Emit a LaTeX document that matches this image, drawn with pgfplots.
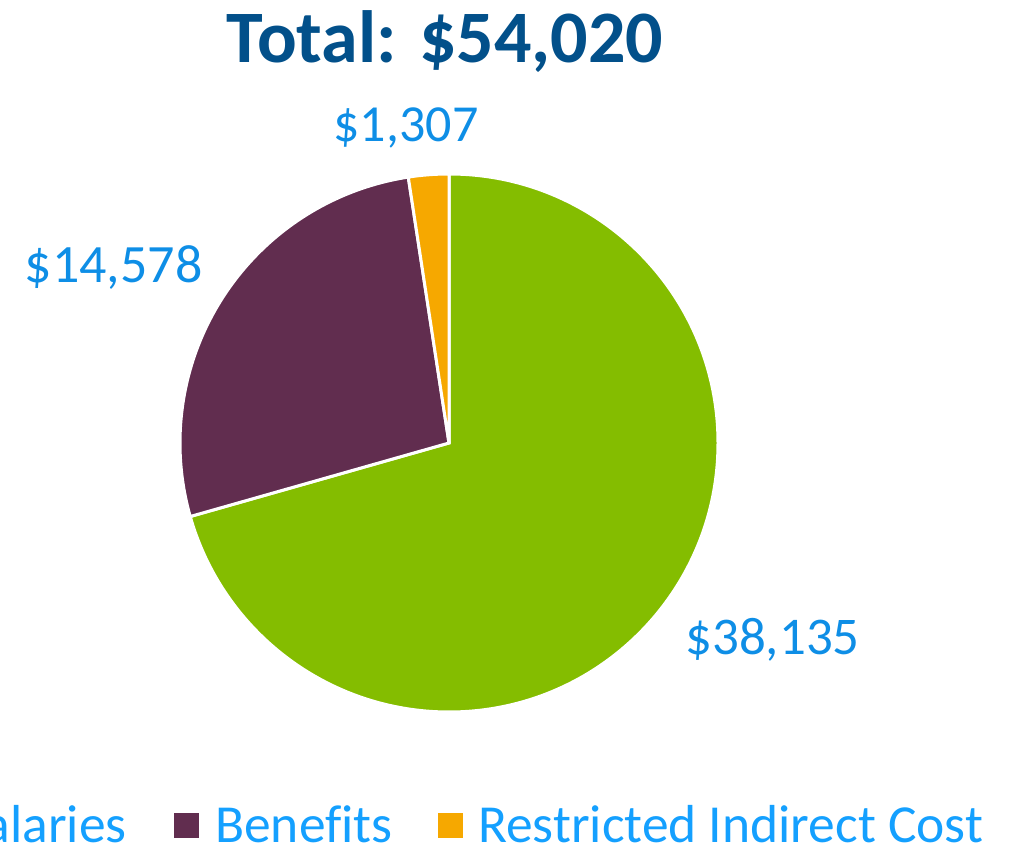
\documentclass[border=0pt]{standalone}
\usepackage{pgfplots}
\pgfplotsset{compat=1.18}
\usepackage{fontspec}
\setmainfont{Carlito}[Ligatures=NoCommon]

\definecolor{salgreen}{RGB}{132,189,0}
\definecolor{benpurple}{RGB}{97,45,79}
\definecolor{rcorange}{RGB}{246,168,0}
\definecolor{titleblue}{RGB}{2,80,138}
\definecolor{lblblue}{RGB}{14,142,230}
\definecolor{legblue}{RGB}{20,160,255}

% slice values
\def\vSal{38135}
\def\vBen{14578}
\def\vRic{1307}
% slice boundary angles (pgfmath overflows on these sizes, so use l3fp)
\edef\aA{90}
\edef\aB{\fpeval{90-360*\vSal/(\vSal+\vBen+\vRic)}}
\edef\aC{\fpeval{90-360*(\vSal+\vBen)/(\vSal+\vBen+\vRic)}}
\edef\aD{-270}

\begin{document}
\begin{tikzpicture}
\begin{axis}[
  at={(0,0)}, anchor=south west,
  scale only axis,
  width=1012pt, height=846pt,
  xmin=0, xmax=1012, ymin=0, ymax=846,
  hide axis, clip=false,
]
% pie, centre (449,403), radius 269
\fill[salgreen, draw=white, line width=3pt, line join=miter]
  (axis cs:449,403) -- ++(\aA:269pt) arc[start angle=\aA, end angle=\aB, radius=269pt] -- cycle;
\fill[benpurple, draw=white, line width=3pt, line join=miter]
  (axis cs:449,403) -- ++(\aB:269pt) arc[start angle=\aB, end angle=\aC, radius=269pt] -- cycle;
\fill[rcorange, draw=white, line width=3pt, line join=miter]
  (axis cs:449,403) -- ++(\aC:269pt) arc[start angle=\aC, end angle=\aD, radius=269pt] -- cycle;

% title
\node[anchor=base, inner sep=0, text=titleblue, font=\fontsize{74}{80}\selectfont\bfseries]
  at (axis cs:445,783) {Total: \$54,020};

% data labels
\node[anchor=base, inner sep=0, text=lblblue, font=\fontsize{52}{60}\selectfont]
  at (axis cs:406,704) {\$1,307};
\node[anchor=base, inner sep=0, text=lblblue, font=\fontsize{54}{60}\selectfont]
  at (axis cs:113.5,563) {\$14,578};
\node[anchor=base, inner sep=0, text=lblblue, font=\fontsize{53}{60}\selectfont]
  at (axis cs:772.5,191) {\$38,135};

% legend
\node[anchor=base east, inner sep=0, text=legblue, font=\fontsize{53.5}{60}\selectfont]
  (sal) at (axis cs:127,4) {Salaries};
\fill[salgreen] ([xshift=-41pt,yshift=4pt]sal.base west) rectangle ++(25pt,25pt);
\fill[benpurple] (axis cs:174,8) rectangle (axis cs:199,33);
\node[anchor=base west, inner sep=0, text=legblue, font=\fontsize{53.5}{60}\selectfont]
  at (axis cs:215,4) {Benefits};
\fill[rcorange] (axis cs:438,8) rectangle (axis cs:463,33);
\node[anchor=base west, inner sep=0, text=legblue, font=\fontsize{53.5}{60}\selectfont]
  at (axis cs:478,4) {Restricted Indirect Cost};
\end{axis}
\pgfresetboundingbox
\path[use as bounding box] (0,0) rectangle (1012pt,846pt);
\end{tikzpicture}
\end{document}
